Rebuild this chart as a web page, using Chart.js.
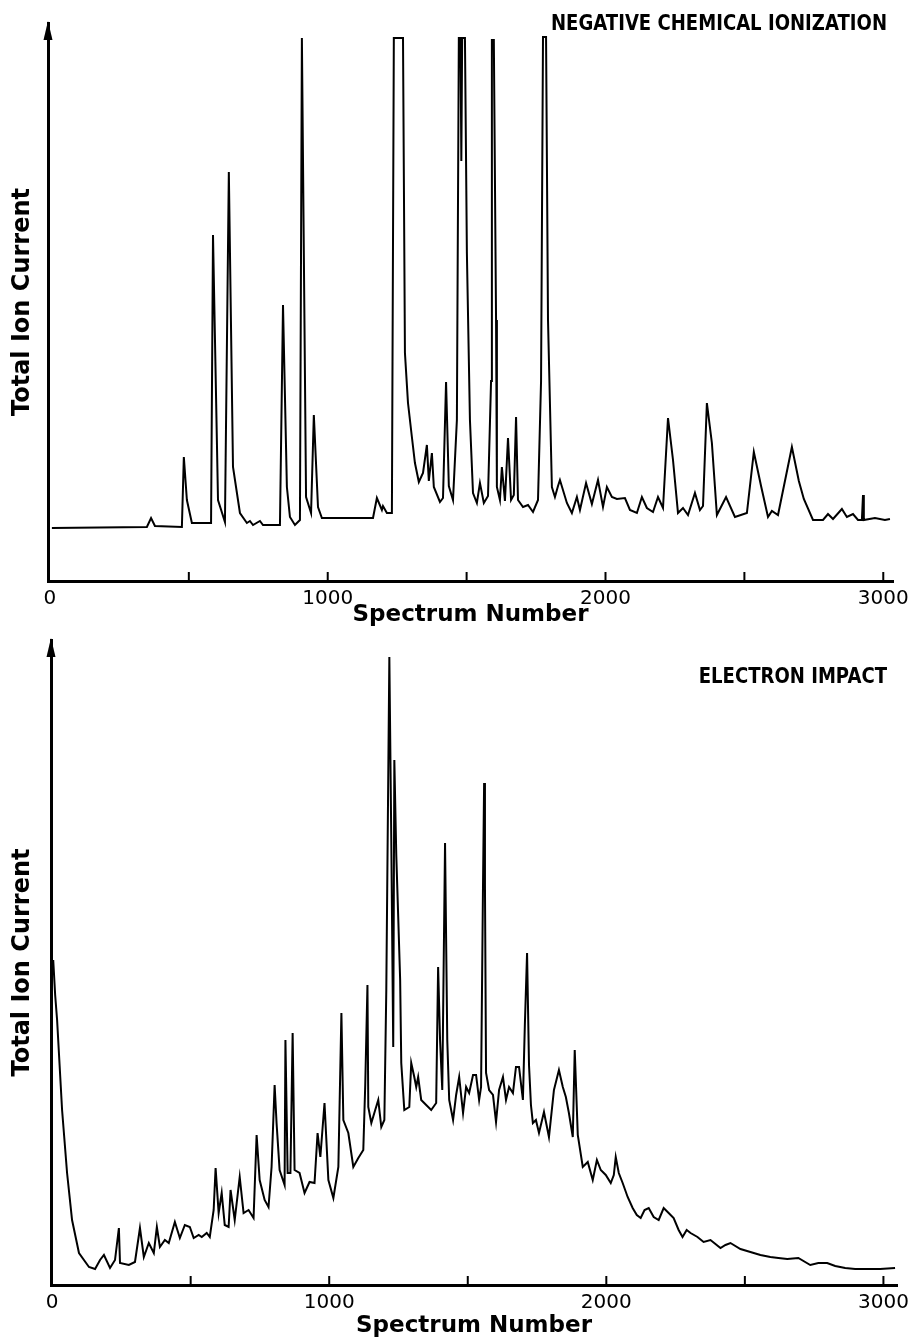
<!DOCTYPE html>
<html>
<head>
<meta charset="utf-8">
<script src="https://cdn.jsdelivr.net/npm/chart.js@4.4.0/dist/chart.umd.min.js"></script>
<style>
  html, body { margin: 0; padding: 0; background: #fff; }
  body { width: 916px; height: 1343px; position: relative; overflow: hidden; }
  canvas { position: absolute; left: 0; }
  #c1 { top: 0; }
  #c2 { top: 632px; }
</style>
</head>
<body>
<canvas id="c1" width="916" height="632"></canvas>
<canvas id="c2" width="916" height="711"></canvas>
<script>
// ---------- DATA ----------
const xTickValues = [0, 1000, 2000, 3000];
const xTickLabels = ["0", "1000", "2000", "3000"];
const minorTickValues = [500, 1000, 1500, 2000, 2500, 3000];
const xAxisTitle = "Spectrum Number";
const yAxisTitle = "Total Ion Current";
const titleNCI = "NEGATIVE CHEMICAL IONIZATION";
const titleEI = "ELECTRON IMPACT";

// Negative chemical ionization trace (spectrum number, relative ion current)
const spectrumNCI = [7,349,364,378,475,482,493,511,580,587,605,630,644,659,684,709,720,731,756,767,828,839,853,864,882,900,907,922,940,950,965,979,1163,1177,1195,1199,1213,1231,1238,1271,1278,1289,1303,1314,1328,1343,1357,1364,1375,1382,1404,1415,1426,1436,1451,1465,1472,1478,1481,1484,1494,1501,1512,1523,1537,1548,1562,1577,1588,1591,1598,1606,1609,1620,1627,1638,1649,1660,1670,1678,1685,1703,1721,1739,1757,1768,1775,1786,1793,1807,1818,1829,1836,1861,1879,1897,1908,1930,1951,1973,1991,2005,2023,2041,2070,2088,2113,2131,2149,2171,2189,2207,2225,2243,2261,2279,2297,2322,2340,2351,2365,2383,2401,2434,2466,2509,2534,2560,2585,2599,2621,2671,2696,2714,2747,2783,2801,2819,2851,2869,2891,2909,2923,2927,2930,2970,3006,3024];
const currentNCI = [53,54,63,55,54,124,81,58,58,346,81,59,409,114,68,58,60,56,60,56,56,276,94,64,56,61,543,84,68,166,74,63,63,83,71,75,68,68,543,543,228,178,144,118,99,108,136,100,128,94,79,83,199,95,81,161,543,543,420,543,543,328,161,88,78,98,78,85,200,541,541,261,94,81,114,80,143,81,86,164,81,74,76,69,81,200,544,544,261,94,84,95,101,78,68,84,71,98,77,101,74,94,84,82,83,71,68,84,73,69,84,73,163,121,68,73,66,88,71,75,178,138,66,84,64,68,129,95,64,70,66,134,100,82,61,61,67,62,72,64,67,61,61,86,61,63,61,62];

// Electron impact trace
const spectrumEI = [4,11,18,36,54,72,97,133,155,173,187,209,227,241,245,277,299,317,331,349,367,378,389,407,421,443,461,479,497,511,529,540,558,569,583,590,601,612,623,637,644,659,677,691,709,727,738,749,767,781,792,803,810,821,839,842,850,860,868,875,893,911,929,947,958,968,983,997,1015,1033,1044,1051,1069,1087,1105,1123,1130,1138,1141,1152,1166,1177,1188,1199,1206,1217,1224,1231,1235,1242,1249,1256,1260,1271,1289,1296,1307,1314,1321,1332,1350,1368,1386,1393,1400,1408,1418,1426,1433,1447,1458,1469,1483,1494,1505,1519,1530,1541,1548,1555,1559,1562,1566,1577,1591,1602,1613,1627,1638,1649,1663,1674,1685,1699,1706,1714,1721,1728,1735,1746,1757,1775,1793,1811,1829,1843,1854,1865,1879,1886,1897,1915,1933,1951,1966,1980,1998,2016,2027,2034,2045,2059,2077,2095,2110,2124,2138,2153,2171,2189,2207,2225,2243,2261,2275,2290,2304,2329,2351,2376,2412,2430,2448,2484,2520,2556,2592,2621,2653,2693,2736,2765,2797,2826,2862,2898,2941,2988,3042];
const currentEI = [325,290,265,175,112,65,32,18,16,25,30,17,25,57,22,20,23,57,28,42,32,58,38,45,42,63,47,60,58,47,50,48,52,48,75,117,72,92,60,58,95,65,108,72,75,67,150,105,85,78,118,200,162,115,100,245,112,112,252,115,112,92,103,102,152,128,182,105,87,118,272,165,152,118,127,135,200,300,178,162,175,185,158,165,295,628,445,238,525,430,368,305,222,175,178,222,208,198,208,185,180,175,182,318,245,195,442,245,185,165,190,208,172,198,192,210,210,185,198,400,502,400,212,195,190,163,195,208,185,198,192,218,218,185,260,332,220,180,162,165,152,173,148,195,215,198,188,172,148,235,150,118,123,105,125,115,110,102,110,128,112,102,88,77,70,67,75,77,68,65,77,72,67,55,48,55,52,48,43,45,37,40,42,36,33,30,28,27,26,27,20,22,22,19,17,16,16,16,17];

// ---------- DRAWING ----------
const decoPlugin = {
  id: 'deco',
  afterDraw(chart, args, opts) {
    const ctx = chart.ctx;
    const xs = chart.scales.x, ys = chart.scales.y;
    const y0 = ys.getPixelForValue(ys.min);
    const xl = chart.chartArea.left, yt = chart.chartArea.top;
    ctx.save();
    ctx.strokeStyle = '#000';
    ctx.fillStyle = '#000';
    ctx.lineWidth = 2;
    // upward tick marks
    minorTickValues.forEach(v => {
      const px = xs.getPixelForValue(v);
      ctx.beginPath();
      ctx.moveTo(px, y0);
      ctx.lineTo(px, y0 - 9);
      ctx.stroke();
    });
    // arrow head on the y axis
    ctx.beginPath();
    ctx.moveTo(xl, yt - 2);
    ctx.lineTo(xl - 4.5, yt + 17);
    ctx.lineTo(xl + 4.5, yt + 17);
    ctx.closePath();
    ctx.fill();
    // panel caption
    ctx.translate(opts.right, opts.baseline);
    ctx.scale(0.86, 1);
    ctx.font = 'bold 21px "DejaVu Sans", sans-serif';
    ctx.textAlign = 'right';
    ctx.textBaseline = 'alphabetic';
    ctx.fillText(opts.text, 0, 0);
    ctx.restore();
  }
};

function makeChart(id, xs, ys, cfg) {
  const pts = xs.map((x, i) => ({ x: x, y: ys[i] }));
  return new Chart(document.getElementById(id), {
    type: 'line',
    data: { datasets: [{ data: pts, borderColor: '#000', borderWidth: 2, pointRadius: 0, tension: 0, fill: false }] },
    plugins: [decoPlugin],
    options: {
      responsive: false,
      animation: false,
      devicePixelRatio: 1,
      layout: { padding: { top: cfg.padTop, right: cfg.padRight, left: 0, bottom: 0 } },
      plugins: {
        legend: { display: false },
        tooltip: { enabled: false },
        deco: { text: cfg.caption, right: cfg.capRight, baseline: cfg.capBase }
      },
      scales: {
        x: {
          type: 'linear',
          min: cfg.xmin, max: cfg.xmax,
          afterBuildTicks: s => { s.ticks = xTickValues.map(v => ({ value: v })); },
          afterFit: s => { s.height = cfg.xHeight; },
          grid: { display: false, drawTicks: false },
          border: { display: true, color: '#000', width: 3 },
          ticks: {
            color: '#000', padding: cfg.tickPad, maxRotation: 0, autoSkip: false,
            font: { family: '"DejaVu Sans", sans-serif', size: 20 },
            callback: (v) => { const i = xTickValues.indexOf(v); return i >= 0 ? xTickLabels[i] : ''; }
          },
          title: {
            display: true, text: xAxisTitle, color: '#000',
            font: { family: '"DejaVu Sans", sans-serif', size: 23, weight: 'bold' },
            padding: { top: 0, bottom: cfg.xTitlePad }
          }
        },
        y: {
          min: 0, max: cfg.ymax,
          afterFit: s => { s.width = cfg.yWidth; },
          grid: { display: false, drawTicks: false },
          border: { display: true, color: '#000', width: 3 },
          ticks: { display: false },
          title: {
            display: true, text: yAxisTitle, color: '#000',
            font: { family: '"DejaVu Sans", sans-serif', size: 24, weight: 'bold' },
            padding: { top: 8, bottom: 0 }
          }
        }
      }
    }
  });
}

makeChart('c1', spectrumNCI, currentNCI, {
  padTop: 23, padRight: 23, xHeight: 51, yWidth: 48, xmin: -7, xmax: 3035, ymax: 558,
  tickPad: 6, xTitlePad: 3, caption: titleNCI, capRight: 887, capBase: 30
});
makeChart('c2', spectrumEI, currentEI, {
  padTop: 8, padRight: 19, xHeight: 58, yWidth: 51, xmin: -4, xmax: 3049, ymax: 645,
  tickPad: 6, xTitlePad: 3, caption: titleEI, capRight: 887, capBase: 51
});
</script>
</body>
</html>
